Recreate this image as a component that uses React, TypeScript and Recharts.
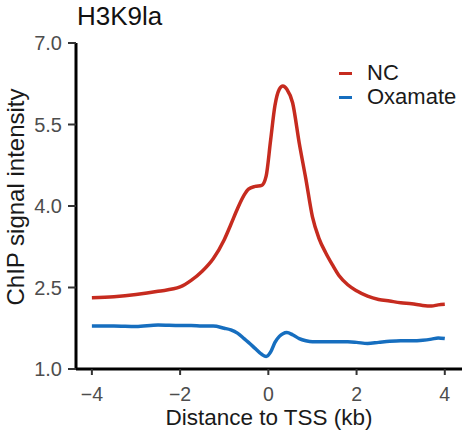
import React from 'react';
import { LineChart, Line, XAxis, YAxis, Legend } from 'recharts';

const FONT = '"Liberation Sans", Arial, Helvetica, sans-serif';

// Distance to TSS (kb)
const xPositions = [
  -4, -3.5, -3, -2.5, -2, -1.75, -1.5, -1.25, -1, -0.85, -0.7, -0.55, -0.45, -0.3, -0.15, -0.05,
  0.05, 0.15, 0.25, 0.33, 0.42, 0.55, 0.7, 0.85, 1, 1.15, 1.3, 1.45, 1.6, 1.8, 2, 2.25, 2.5, 2.75,
  3, 3.25, 3.5, 3.7, 3.85, 4,
];

// NC ChIP signal intensity
const ncSignal = [
  2.31, 2.33, 2.37, 2.43, 2.51, 2.63, 2.8, 3.03, 3.38, 3.66, 3.95, 4.2, 4.31, 4.36, 4.38, 4.55,
  5.2, 5.85, 6.15, 6.21, 6.15, 5.9, 5.16, 4.5, 3.8, 3.4, 3.14, 2.92, 2.72, 2.55, 2.44, 2.34, 2.28, 2.25,
  2.22, 2.2, 2.17, 2.16, 2.18, 2.19,
];

// Oxamate ChIP signal intensity
const oxamateSignal = [
  1.79, 1.79, 1.78, 1.81, 1.8, 1.8, 1.79, 1.79, 1.75, 1.72, 1.66, 1.56, 1.49, 1.38, 1.27, 1.23,
  1.31, 1.49, 1.6, 1.65, 1.67, 1.63, 1.56, 1.52, 1.5, 1.5, 1.5, 1.5, 1.5, 1.5, 1.49, 1.47, 1.49, 1.51,
  1.52, 1.52, 1.53, 1.55, 1.57, 1.56,
];

const xTicks = [-4, -2, 0, 2, 4];
const yTicks = [1.0, 2.5, 4.0, 5.5, 7.0];
const seriesNames = ['NC', 'Oxamate'];
const seriesColors = ['#c62b1f', '#166ebf'];

const data = xPositions.map((x, i) => ({
  x,
  [seriesNames[0]]: ncSignal[i],
  [seriesNames[1]]: oxamateSignal[i],
}));

const renderLegend = (props: any) => {
  const payload = props.payload || [];
  return (
    <div style={{ fontFamily: FONT }}>
      {payload.map((entry: any) => (
        <div
          key={entry.value}
          style={{ display: 'flex', alignItems: 'center', height: 24, fontSize: 22, color: '#1a1a1a' }}
        >
          <span
            style={{
              display: 'inline-block',
              width: 13,
              height: 3,
              background: entry.color,
              marginRight: 15,
            }}
          />
          <span style={{ lineHeight: '24px' }}>{entry.value}</span>
        </div>
      ))}
    </div>
  );
};

export default function App() {
  return (
    <div style={{ position: 'absolute', left: 0, top: 0, width: 476, height: 436, background: '#fff' }}>
      <div
        style={{
          position: 'absolute',
          left: 77,
          top: 3,
          fontFamily: FONT,
          fontSize: 26,
          lineHeight: '26px',
          color: '#111',
        }}
      >
        H3K9la
      </div>
      <LineChart
        width={476}
        height={436}
        data={data}
        margin={{ top: 43, right: 14, bottom: 7, left: 0 }}
        style={{ fontFamily: FONT }}
      >
        <XAxis
          dataKey="x"
          type="number"
          domain={[-4.36, 4.39]}
          ticks={xTicks}
          allowDataOverflow
          height={60}
          axisLine={{ stroke: '#000', strokeWidth: 3 }}
          tickLine={{ stroke: '#333', strokeWidth: 2 }}
          tickSize={6}
          tickMargin={12}
          tick={{ fill: '#4d4d4d', fontSize: 19.5, fontFamily: FONT }}
          tickFormatter={(v: number) => String(v).replace('-', '\u2212')}
          label={{
            content: () => (
              <text x={269} y={425} textAnchor="middle" fill="#1a1a1a" fontSize={22.5} fontFamily={FONT}>
                Distance to TSS (kb)
              </text>
            ),
          }}
        />
        <YAxis
          type="number"
          domain={[1, 7]}
          ticks={yTicks}
          allowDataOverflow
          width={76}
          axisLine={{ stroke: '#000', strokeWidth: 3 }}
          tickLine={{ stroke: '#333', strokeWidth: 2 }}
          tickSize={8}
          tickMargin={6}
          tick={{ fill: '#4d4d4d', fontSize: 20, fontFamily: FONT }}
          tickFormatter={(v: number) => v.toFixed(1)}
          label={{
            content: () => (
              <text
                x={24}
                y={197}
                transform="rotate(-90 24 197)"
                textAnchor="middle"
                fill="#1a1a1a"
                fontSize={24}
                fontFamily={FONT}
              >
                ChIP signal intensity
              </text>
            ),
          }}
        />
        <Legend
          layout="vertical"
          align="center"
          verticalAlign="middle"
          content={renderLegend}
          wrapperStyle={{ position: 'absolute', left: 339, top: 61, width: 'auto', height: 'auto' }}
        />
        {seriesNames.map((name, i) => (
          <Line
            key={name}
            type="monotone"
            dataKey={name}
            stroke={seriesColors[i]}
            strokeWidth={3.5}
            dot={false}
            activeDot={false}
            isAnimationActive={false}
          />
        ))}
      </LineChart>
    </div>
  );
}
